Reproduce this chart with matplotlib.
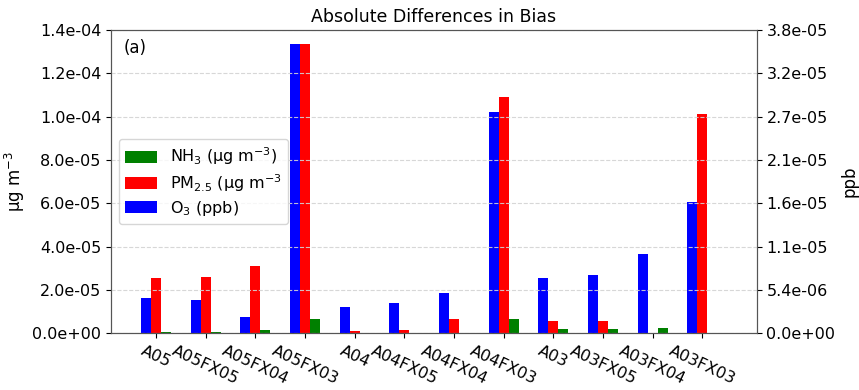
import matplotlib
matplotlib.use("Agg")
import matplotlib.pyplot as plt
import numpy as np

cases = ['A05', 'A05FX05', 'A05FX04', 'A05FX03', 'A04', 'A04FX05', 'A04FX04',
         'A04FX03', 'A03', 'A03FX05', 'A03FX04', 'A03FX03']

# absolute bias differences
o3 = [4.41e-6, 4.16e-6, 2.02e-6, 3.578e-5, 3.22e-6, 3.75e-6, 5.03e-6,
      2.744e-5, 6.81e-6, 7.22e-6, 9.78e-6, 1.626e-5]          # ppb
pm25 = [2.57e-5, 2.61e-5, 3.12e-5, 1.334e-4, 1.06e-6, 1.5e-6, 6.7e-6,
        1.0905e-4, 5.5e-6, 5.5e-6, 1e-7, 1.0106e-4]           # ug m-3
nh3 = [7.5e-7, 6e-7, 1.5e-6, 6.7e-6, 1e-7, 1e-7, 5e-8,
       6.6e-6, 2.1e-6, 2.1e-6, 2.6e-6, 1e-7]                  # ug m-3

x = np.arange(len(cases))
w = 0.2

fig, ax1 = plt.subplots(figsize=(8.59, 3.9), dpi=100)
fig.subplots_adjust(left=0.1292, right=0.8809, top=0.9231, bottom=0.1454)
ax2 = ax1.twinx()

b_pm = ax1.bar(x, pm25, w, color='red', label='PM$_{2.5}$ (μg m$^{-3}$')
b_nh3 = ax1.bar(x + w, nh3, w, color='green', label='NH$_3$ (μg m$^{-3}$)')
b_o3 = ax2.bar(x - w, o3, w, color='blue', label='O$_3$ (ppb)')

ymax1 = 1.4e-4
ymax2 = 3.757e-5
ax1.set_ylim(0, ymax1)
ax2.set_ylim(0, ymax2)
ax1.set_yticks(np.linspace(0, ymax1, 8))
ax2.set_yticks(np.linspace(0, ymax2, 8))
ax1.yaxis.set_major_formatter(matplotlib.ticker.FormatStrFormatter('%.1e'))
ax2.yaxis.set_major_formatter(matplotlib.ticker.FormatStrFormatter('%.1e'))
ax1.set_xlim(-0.906, 12.095)

ax1.set_xticks(x)
ax1.set_xticklabels(cases, rotation=-25, fontsize=11.5)
ax1.tick_params(axis='y', labelsize=11.5)
ax2.tick_params(axis='y', labelsize=11.5)

ax2.grid(axis='y', linestyle='--', color='lightgray', alpha=0.9)

ax1.set_ylabel('μg m$^{-3}$', fontsize=12)
ax2.set_ylabel('ppb', fontsize=12)
ax1.set_title('Absolute Differences in Bias', fontsize=12.5)
ax1.text(0.02, 0.97, '(a)', transform=ax1.transAxes, va='top', fontsize=12)

# legend on the twin axes so the grid stays behind it
ax2.legend([b_nh3, b_pm, b_o3], [b_nh3.get_label(), b_pm.get_label(), b_o3.get_label()],
           loc='center left', fontsize=11.5, labelspacing=0.3, handleheight=0.8,
           borderpad=0.4)

for ax in (ax1, ax2):
    for s in ax.spines.values():
        s.set_color('#555555')

plt.savefig('out.png', dpi=100)
